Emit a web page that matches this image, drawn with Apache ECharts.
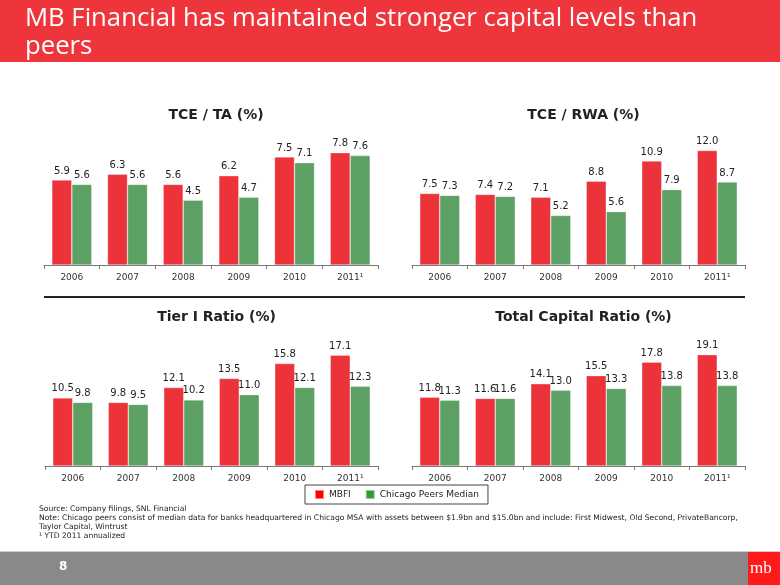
<!DOCTYPE html>
<html>
<head>
<meta charset="utf-8">
<script src="https://cdn.jsdelivr.net/npm/echarts@6/dist/echarts.min.js"></script>
<style>html,body{margin:0;padding:0;background:#fff}#c{width:780px;height:585px}</style>
</head>
<body>
<div id="c"></div>
<script>
const years = ['2006', '2007', '2008', '2009', '2010', '2011\u00B9'];
const seriesNames = ['MBFI', 'Chicago Peers Median'];
const chartTitles = ['TCE / TA (%)', 'TCE / RWA (%)', 'Tier I Ratio (%)', 'Total Capital Ratio (%)'];
const tceTaMBFI = [5.9, 6.3, 5.6, 6.2, 7.5, 7.8];
const tceTaPeers = [5.6, 5.6, 4.5, 4.7, 7.1, 7.6];
const tceRwaMBFI = [7.5, 7.4, 7.1, 8.8, 10.9, 12.0];
const tceRwaPeers = [7.3, 7.2, 5.2, 5.6, 7.9, 8.7];
const tier1MBFI = [10.5, 9.8, 12.1, 13.5, 15.8, 17.1];
const tier1Peers = [9.8, 9.5, 10.2, 11.0, 12.1, 12.3];
const totalCapMBFI = [11.8, 11.6, 14.1, 15.5, 17.8, 19.1];
const totalCapPeers = [11.3, 11.6, 13.0, 13.3, 13.8, 13.8];
const pageTitle = 'MB Financial has maintained stronger capital levels than\npeers';
const footnotes = [
  'Source: Company filings, SNL Financial',
  'Note: Chicago peers consist of median data for banks headquartered in Chicago MSA with assets between $1.9bn and $15.0bn and include: First Midwest, Old Second, PrivateBancorp,',
  'Taylor Capital, Wintrust',
  '\u00B9 YTD 2011 annualized'
];

const RED = '#EC3339', GREEN = '#5CA064';
const FONT = 'DejaVu Sans';
const panels = [
  {m: tceTaMBFI, p: tceTaPeers, left: 44, width: 334, top: 121, max: 10, ttop: 103},
  {m: tceRwaMBFI, p: tceRwaPeers, left: 412, width: 333, top: 121, max: 15.1, ttop: 103},
  {m: tier1MBFI, p: tier1Peers, left: 45, width: 333, top: 322, max: 22.2, ttop: 305},
  {m: totalCapMBFI, p: totalCapPeers, left: 412, width: 333, top: 322, max: 24.7, ttop: 305}
];
const H = 144;
const grid = [], xAxis = [], yAxis = [], series = [], titles = [];
panels.forEach((pn, i) => {
  grid.push({left: pn.left, width: pn.width, top: pn.top, height: H});
  xAxis.push({type: 'category', gridIndex: i, data: years,
    axisLine: {lineStyle: {color: '#777', width: 1}},
    axisTick: {show: true, alignWithLabel: false, length: 4, lineStyle: {color: '#777'}},
    axisLabel: {color: '#333', fontFamily: FONT, fontSize: 9, margin: 8}});
  yAxis.push({type: 'value', gridIndex: i, min: 0, max: pn.max, show: false, splitLine: {show: false}});
  [pn.m, pn.p].forEach((d, k) => {
    series.push({type: 'bar', name: seriesNames[k], xAxisIndex: i, yAxisIndex: i, data: d,
      barWidth: 20, barGap: '0%',
      itemStyle: {color: k === 0 ? RED : GREEN, borderColor: 'rgba(255,255,255,0.5)', borderWidth: 0.6},
      label: {show: true, position: 'top', distance: 4, color: '#222', fontFamily: FONT, fontSize: 10,
        formatter: p => p.value.toFixed(1)}});
  });
  titles.push({text: chartTitles[i], left: pn.left + pn.width / 2, top: pn.ttop,
    textAlign: 'center',
    textStyle: {fontFamily: FONT, fontWeight: 'bold', fontSize: 14, color: '#222'}});
});

const graphic = [
  {type: 'rect', left: 0, top: 0, shape: {width: 780, height: 62}, style: {fill: '#EE353B'}, z: -1},
  {type: 'text', left: 25, top: 5, style: {text: pageTitle, fill: '#fff', font: '25.7px "Open Sans"', lineHeight: 28}},
  {type: 'line', shape: {x1: 44, y1: 297, x2: 745, y2: 297}, style: {stroke: '#222', lineWidth: 2}},
  {type: 'rect', left: 0, top: 552, shape: {width: 780, height: 33}, style: {fill: '#898989'}},
  {type: 'rect', left: 0, top: 551, shape: {width: 780, height: 1}, style: {fill: '#cfcfcf'}},
  {type: 'text', left: 59, top: 561, style: {text: '8', fill: '#fff', font: 'bold 12px "DejaVu Sans"'}},
  {type: 'rect', left: 748, top: 552, shape: {width: 32, height: 33}, style: {fill: '#FF1A1A'}},
  {type: 'text', left: 750, top: 560, style: {text: 'mb', fill: '#fff', font: '17px "Liberation Serif"'}}
];
footnotes.forEach((t, i) => {
  graphic.push({type: 'text', left: 39, top: 505 + i * 9, style: {text: t, fill: '#222', font: '7.6px "DejaVu Sans"'}});
});

const chart = echarts.init(document.getElementById('c'));
chart.setOption({
  animation: false,
  title: titles,
  grid, xAxis, yAxis, series, graphic,
  legend: {left: 305, top: 485, padding: [4, 9, 4, 9], itemGap: 14, itemWidth: 9, itemHeight: 9,
    borderColor: '#444', borderWidth: 1,
    icon: 'rect',
    data: [{name: seriesNames[0], itemStyle: {color: '#FF0000'}}, {name: seriesNames[1], itemStyle: {color: '#339933'}}],
    textStyle: {fontFamily: FONT, fontSize: 9, color: '#222'}}
});
</script>
</body>
</html>
